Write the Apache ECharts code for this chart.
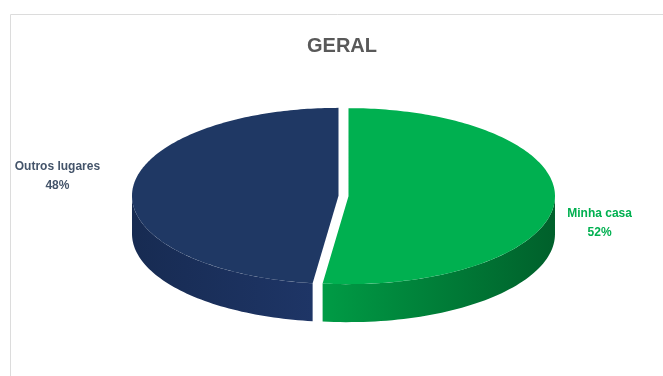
<!DOCTYPE html>
<html><head><meta charset="utf-8">
<script src="https://cdn.jsdelivr.net/npm/echarts@6/dist/echarts.min.js"></script>
<style>html,body{margin:0;padding:0;background:#fff}#c{width:663px;height:376px}</style>
</head><body><div id="c"></div>
<script>
const chartTitle = 'GERAL';
const categories = ['Minha casa', 'Outros lugares'];
const values = [52, 48];

const topColors = ['#00B050', '#1F3864'];
const sideColors = [['#009b45', '#00602b'], ['#1e3566', '#172b52']];
const labelColors = ['#00B050', '#44546A'];

const total = values.reduce((s, v) => s + v, 0);
const starts = [];
let acc = 0;
values.forEach(v => { starts.push(acc); acc += v; });

// layout constants
const CX = 343.5, CY = 196, A = 206.5, B = 88, H = 38, EXP = 5;
const labelOffsets = [[45, 22], [-75, -14]];

function ellPt(cx, cy, ang, dy) {
  return [cx + A * Math.cos(ang), cy + B * Math.sin(ang) + (dy || 0)];
}

function renderItem(params, api) {
  const i = params.dataIndex;
  const v = api.value(1);
  const s = -Math.PI / 2 + starts[i] / total * 2 * Math.PI;
  const e = s + v / total * 2 * Math.PI;
  const mid = (s + e) / 2;
  const cx = CX + EXP * Math.cos(mid);
  const cy = CY + EXP * (B / A) * Math.sin(mid);
  const children = [];

  // visible side wall: intersect [s,e] with [0,PI] and [2PI,3PI]
  [[0, Math.PI], [2 * Math.PI, 3 * Math.PI], [-2 * Math.PI, -Math.PI]].forEach(r => {
    const a0 = Math.max(s, r[0]), a1 = Math.min(e, r[1]);
    if (a1 <= a0) return;
    const N = 60;
    const pts = [];
    for (let k = 0; k <= N; k++) pts.push(ellPt(cx, cy, a0 + (a1 - a0) * k / N));
    for (let k = N; k >= 0; k--) pts.push(ellPt(cx, cy, a0 + (a1 - a0) * k / N, H));
    children.push({
      type: 'polygon', z2: 1,
      shape: { points: pts },
      style: {
        fill: new echarts.graphic.LinearGradient(0, 0, 1, 0, [
          { offset: 0, color: i === 0 ? sideColors[i][0] : sideColors[i][1] },
          { offset: 1, color: i === 0 ? sideColors[i][1] : sideColors[i][0] }
        ]),
        stroke: null
      }
    });
  });

  // top face
  const N2 = 180;
  const tp = [[cx, cy]];
  for (let k = 0; k <= N2; k++) tp.push(ellPt(cx, cy, s + (e - s) * k / N2));
  children.push({
    type: 'polygon', z2: 10,
    shape: { points: tp },
    style: { fill: topColors[i], stroke: null }
  });

  // label
  const edge = ellPt(cx, cy, mid);
  const pct = Math.round(v / total * 100) + '%';
  children.push({
    type: 'text', z2: 20,
    x: edge[0] + labelOffsets[i][0],
    y: edge[1] + labelOffsets[i][1],
    style: {
      text: api.value(0) !== undefined ? categories[i] + '\n' + pct : pct,
      fill: labelColors[i],
      fontSize: 12, fontWeight: 'bold', fontFamily: 'Liberation Sans',
      align: 'center', verticalAlign: 'middle', lineHeight: 19
    }
  });
  return { type: 'group', children: children };
}

const chart = echarts.init(document.getElementById('c'));
chart.setOption({
  animation: false,
  graphic: [
    { type: 'rect', shape: { x: 10.5, y: 14.5, width: 700, height: 420 },
      style: { fill: null, stroke: '#dcdcdc', lineWidth: 1 } },
    { type: 'text', x: 342, y: 46,
      style: { text: chartTitle, fill: '#595959', fontSize: 20, fontWeight: 'bold',
        fontFamily: 'Liberation Sans', align: 'center', verticalAlign: 'middle' } }
  ],
  series: [{
    type: 'custom',
    coordinateSystem: 'none',
    renderItem: renderItem,
    data: categories.map((c, i) => [i, values[i]])
  }]
});
</script></body></html>
